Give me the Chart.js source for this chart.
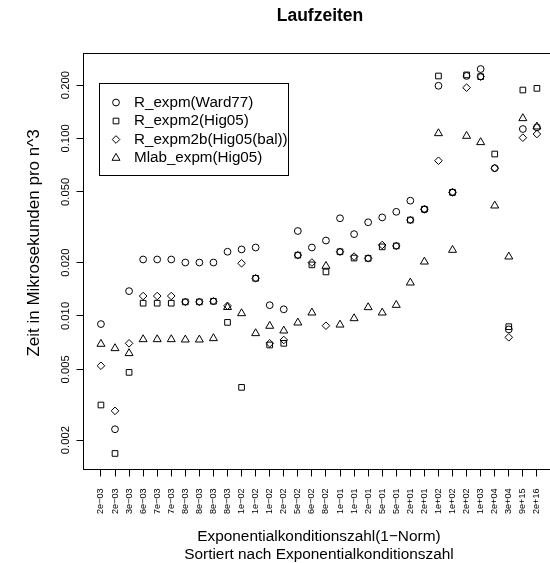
<!DOCTYPE html>
<html>
<head>
<meta charset="utf-8">
<script src="https://cdn.jsdelivr.net/npm/chart.js@4/dist/chart.umd.min.js"></script>
<style>
  html, body { margin: 0; padding: 0; overflow: hidden; background: #fff; }
  canvas { display: block; }
</style>
</head>
<body>
<canvas id="runtimes" width="560" height="563" style="width:560px;height:563px"></canvas>
<script>
// Condition number of each test matrix (1-norm), sorted ascending
const conditionLabels = [
  '2e\u221203', '2e\u221203', '3e\u221203', '6e\u221203', '7e\u221203', '7e\u221203', '8e\u221203', '8e\u221203',
  '8e\u221203', '8e\u221203', '1e\u221202', '1e\u221202', '1e\u221202', '2e\u221202', '5e\u221202', '6e\u221202',
  '8e\u221202', '1e\u221201', '1e\u221201', '2e\u221201', '5e\u221201', '5e\u221201', '2e+01', '2e+01',
  '1e+02', '1e+02', '2e+02', '1e+03', '2e+04', '3e+04', '9e+15', '2e+16'
];

// Run time in microseconds per n^3, one value per matrix
const wardTimes = [
  0.0090, 0.0023, 0.0138, 0.0208, 0.0208, 0.0208, 0.0200, 0.0200,
  0.0200, 0.0230, 0.0237, 0.0243, 0.0115, 0.0109, 0.0301, 0.0243,
  0.0266, 0.0355, 0.0289, 0.0337, 0.0359, 0.0386, 0.0446, 0.0399,
  0.198, 0.0497, 0.225, 0.246, 0.068, 0.0084, 0.113, 0.1155
];
const hig05Times = [
  0.00315, 0.00168, 0.00481, 0.0118, 0.0118, 0.0118, 0.0120, 0.0120,
  0.0121, 0.0092, 0.00396, 0.0163, 0.00686, 0.00701, 0.0220, 0.0194,
  0.0177, 0.0230, 0.0212, 0.0211, 0.0245, 0.0248, 0.0347, 0.0399,
  0.2248, 0.0497, 0.228, 0.2229, 0.0817, 0.0087, 0.1874, 0.1915
];
const hig05BalTimes = [
  0.00524, 0.00292, 0.00701, 0.01295, 0.01295, 0.01295, 0.0120, 0.0120,
  0.0121, 0.0114, 0.0198, 0.0163, 0.00701, 0.00732, 0.0220, 0.0200,
  0.00881, 0.0230, 0.0216, 0.0211, 0.0251, 0.0248, 0.0347, 0.0399,
  0.0749, 0.0497, 0.1932, 0.2229, 0.068, 0.00758, 0.1010, 0.1059
];
const matlabTimes = [
  0.00695, 0.00657, 0.00616, 0.00738, 0.00738, 0.00738, 0.00735, 0.00735,
  0.00748, 0.0112, 0.01034, 0.00798, 0.00878, 0.00826, 0.00916, 0.01043,
  0.01911, 0.00892, 0.00969, 0.01118, 0.01043, 0.01152, 0.01539, 0.0202,
  0.1068, 0.02352, 0.1032, 0.0951, 0.0418, 0.02157, 0.1298, 0.1165
];

const seriesNames = ['R_expm(Ward77)', 'R_expm2(Hig05)', 'R_expm2b(Hig05(bal))', 'Mlab_expm(Hig05)'];
const yTickValues = [0.002, 0.005, 0.01, 0.02, 0.05, 0.1, 0.2];
const yTickLabels = ['0.002', '0.005', '0.010', '0.020', '0.050', '0.100', '0.200'];

const FONT = "'Liberation Sans', Arial, Helvetica, sans-serif";

// marker look per series (open black symbols)
const markerStyles = [
  { pointStyle: 'circle', radius: 3.4 },
  { pointStyle: 'rect', radius: 4.0 },
  { pointStyle: 'rectRot', radius: 3.8 },
  { pointStyle: 'triangle', radius: 4.6 }
];

const seriesValues = [wardTimes, hig05Times, hig05BalTimes, matlabTimes];

const datasets = seriesValues.map((vals, k) => ({
  label: seriesNames[k],
  data: vals.map((v, i) => ({ x: i, y: v })),
  showLine: false,
  pointStyle: markerStyles[k].pointStyle,
  pointRadius: markerStyles[k].radius,
  pointHoverRadius: markerStyles[k].radius,
  pointBorderWidth: 1,
  pointBorderColor: '#000',
  pointBackgroundColor: 'rgba(0,0,0,0)'
}));

// frame, rotated y tick labels, main title, y axis title and the legend box
const decorations = {
  id: 'decorations',
  afterDraw(chart) {
    const { ctx, chartArea: a, scales } = chart;
    ctx.save();
    ctx.strokeStyle = '#000';
    ctx.lineWidth = 1;
    ctx.strokeRect(a.left, a.top, a.right - a.left, a.bottom - a.top);

    ctx.fillStyle = '#000';
    ctx.font = `11.3px ${FONT}`;
    ctx.textAlign = 'center';
    ctx.textBaseline = 'middle';
    yTickValues.forEach((v, i) => {
      const y = scales.y.getPixelForValue(v);
      ctx.save();
      ctx.translate(66, y);
      ctx.rotate(-Math.PI / 2);
      ctx.fillText(yTickLabels[i], 0, 0);
      ctx.restore();
    });

    ctx.font = `bold 17.5px ${FONT}`;
    ctx.fillText('Laufzeiten', 320, 16.5);

    ctx.font = `17px ${FONT}`;
    ctx.save();
    ctx.translate(34, 243);
    ctx.rotate(-Math.PI / 2);
    ctx.fillText('Zeit in Mikrosekunden pro n^3', 0, 0);
    ctx.restore();

    // legend
    ctx.strokeRect(99.5, 83.5, 189, 92);
    ctx.font = `15.2px ${FONT}`;
    ctx.textAlign = 'left';
    const rowY = [102.5, 121, 139.5, 158];
    seriesNames.forEach((name, k) => {
      ctx.fillStyle = 'rgba(0,0,0,0)';
      ctx.strokeStyle = '#000';
      ctx.lineWidth = 1;
      Chart.helpers.drawPoint(ctx, {
        pointStyle: markerStyles[k].pointStyle,
        radius: markerStyles[k].radius,
        borderWidth: 1,
        rotation: 0
      }, 116, rowY[k]);
      ctx.fillStyle = '#000';
      ctx.fillText(name, 134, rowY[k]);
    });
    ctx.restore();
  }
};

new Chart(document.getElementById('runtimes'), {
  type: 'scatter',
  data: { datasets },
  options: {
    responsive: false,
    animation: false,
    devicePixelRatio: 1,
    layout: { autoPadding: false, padding: { left: 0, right: 4.5, top: 53.5, bottom: 0 } },
    plugins: { legend: { display: false }, title: { display: false }, tooltip: { enabled: false } },
    scales: {
      x: {
        type: 'linear',
        position: 'bottom',
        min: -1.24,
        max: 32.24,
        afterBuildTicks: s => { s.ticks = conditionLabels.map((_, i) => ({ value: i })); },
        afterFit: s => { s.height = 563 - 469.5; },
        ticks: {
          autoSkip: false,
          minRotation: 90,
          maxRotation: 90,
          padding: 12,
          color: '#000',
          font: { family: FONT, size: 9.1 },
          callback: v => conditionLabels[v]
        },
        grid: { drawOnChartArea: false, drawTicks: true, tickLength: 7, tickColor: '#000', tickWidth: 1 },
        border: { display: false },
        title: {
          display: true,
          text: ['Exponentialkonditionszahl(1\u2212Norm)', 'Sortiert nach Exponentialkonditionszahl'],
          color: '#000',
          font: { family: FONT, size: 15.4, lineHeight: 1.12 },
          padding: { top: 0, bottom: 0 }
        }
      },
      y: {
        type: 'logarithmic',
        position: 'left',
        min: 0.0013645,
        max: 0.30096,
        afterBuildTicks: s => { s.ticks = yTickValues.map(v => ({ value: v })); },
        afterFit: s => { s.width = 83.5; },
        ticks: { display: false },
        grid: { drawOnChartArea: false, drawTicks: true, tickLength: 7, tickColor: '#000', tickWidth: 1 },
        border: { display: false }
      }
    }
  },
  plugins: [decorations]
});
</script>
</body>
</html>
